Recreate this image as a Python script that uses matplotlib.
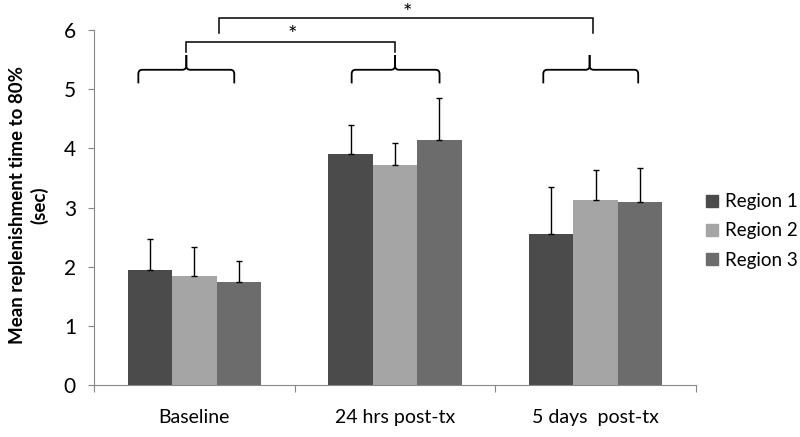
import numpy as np
import matplotlib
matplotlib.use('Agg')
import matplotlib.pyplot as plt
from matplotlib.path import Path
from matplotlib.patches import PathPatch, Patch

plt.rcParams['font.family'] = ['Lato', 'DejaVu Sans']

# Data
categories = ['Baseline', '24 hrs post-tx', '5 days  post-tx']
series = ['Region 1', 'Region 2', 'Region 3']
region1 = [1.94, 3.90, 2.56]
region2 = [1.84, 3.72, 3.12]
region3 = [1.74, 4.14, 3.09]
err1 = [0.53, 0.50, 0.79]
err2 = [0.50, 0.38, 0.52]
err3 = [0.36, 0.71, 0.58]
colors = ['#4b4b4b', '#a5a5a5', '#6c6c6c']


def brace(ax, x0, x1, xc, yb, yh, ytip, rx=0.02, ry=0.07):
    # curly brace made of two halves meeting at the tip
    for a, s in ((x0, 1), (x1, -1)):
        verts = [(a, yb), (a, yh - ry), (a, yh), (a + s * rx, yh),
                 (xc - s * rx, yh), (xc, yh), (xc, yh + ry), (xc, ytip)]
        codes = [Path.MOVETO, Path.LINETO, Path.CURVE3, Path.CURVE3,
                 Path.LINETO, Path.CURVE3, Path.CURVE3, Path.LINETO]
        ax.add_patch(PathPatch(Path(verts, codes), fill=False, lw=1.3,
                               ec='black', clip_on=False))


def bracket(ax, xa, xb, ylo, yhi, lw=1.1):
    ax.plot([xa, xa, xb, xb], [ylo, yhi, yhi, ylo], color='black', lw=lw,
            clip_on=False, solid_joinstyle='miter')


fig = plt.figure(figsize=(8, 4.37), dpi=100)
ax = fig.add_axes([0.1175, 0.119, 0.7525, 0.812])

x = np.arange(len(categories))
w = 0.221
vals = [region1, region2, region3]
errs = [err1, err2, err3]
for i in range(3):
    ax.bar(x + (i - 1) * w, vals[i], w, color=colors[i], label=series[i],
           zorder=2)
    ax.errorbar(x + (i - 1) * w, vals[i], yerr=[np.zeros(3), errs[i]],
                fmt='none', ecolor='black', elinewidth=1, capsize=2.5,
                capthick=1, zorder=3)

ax.set_xlim(-0.5, 2.5)
ax.set_ylim(0, 6)
ax.set_yticks(range(7))
ax.tick_params(axis='y', length=4, color='#888888', labelsize=15, pad=9)
ax.set_xticks([-0.5, 0.5, 1.5, 2.5])
ax.set_xticklabels([])
ax.tick_params(axis='x', which='major', length=5, color='#888888',
               direction='out')
ax.set_xticks(x, minor=True)
ax.set_xticklabels(categories, minor=True)
ax.tick_params(axis='x', which='minor', length=0, labelsize=14, pad=17)
for sp in ['top', 'right']:
    ax.spines[sp].set_visible(False)
for sp in ['left', 'bottom']:
    ax.spines[sp].set_color('#888888')

# significance braces and brackets
brace(ax, -0.279, 0.199, -0.04, 5.10, 5.33, 5.58)
brace(ax, 0.784, 1.222, 1.0, 5.10, 5.33, 5.58)
brace(ax, 1.739, 2.212, 1.97, 5.10, 5.33, 5.58)
bracket(ax, -0.04, 1.0, 5.63, 5.80)
bracket(ax, 0.124, 1.988, 5.95, 6.20)
ax.text(0.49, 5.91, '*', ha='center', va='center', fontsize=16)
ax.text(1.06, 6.29, '*', ha='center', va='center', fontsize=16)

handles = [Patch(color=c) for c in colors]
fig.legend(handles, series, loc='center left',
           bbox_to_anchor=(697 / 800, 1 - 231 / 437), frameon=False,
           fontsize=13.5, handlelength=0.62, handleheight=0.62,
           handletextpad=0.35, labelspacing=0.65, borderpad=0)

fig.text(29 / 800, 1 - 205 / 437, 'Mean replenishment time to 80%\n(sec)',
         rotation=90, ha='center', va='center', fontsize=13.5,
         fontweight='bold', multialignment='center', linespacing=1.3)

fig.savefig('out.png', dpi=100)
